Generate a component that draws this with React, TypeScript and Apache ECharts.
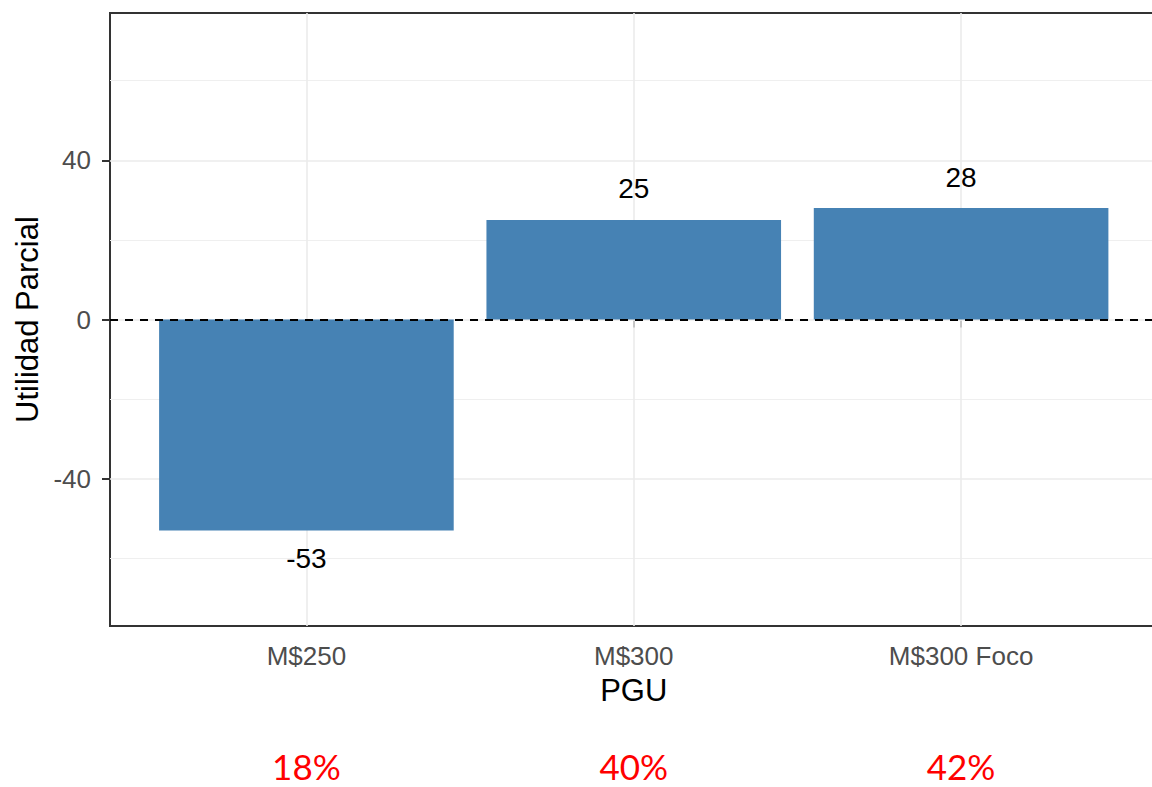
import React, { useEffect, useRef } from "react";
import * as echarts from "echarts";

const categories = ["M$250", "M$300", "M$300 Foco"];
const values = [-53, 25, 28];
const shares = ["18%", "40%", "42%"];
const yMajor = [-40, 0, 40];
const yMinor = [-60, -20, 20, 60];
const positions = categories.map((_, i) => i + 1);

const FONT = "Liberation Sans";

export default function App() {
  const ref = useRef<HTMLDivElement>(null);
  useEffect(() => {
    document.body.style.margin = "0";
    document.body.style.overflow = "hidden";
    const chart = echarts.init(ref.current!, null, { renderer: "svg" });
    const catName = (v: number) => categories[Math.round(v) - 1] ?? "";
    const shareName = (v: number) => shares[Math.round(v) - 1] ?? "";
    chart.setOption({
      animation: false,
      backgroundColor: "#ffffff",
      grid: {
        left: 110,
        top: 13,
        width: 1047.5,
        height: 613,
        containLabel: false,
        outerBoundsMode: "none",
        show: true,
        borderColor: "#333333",
        borderWidth: 2,
        backgroundColor: "transparent",
      },
      xAxis: [
        {
          type: "value",
          min: 0.4,
          max: 3.6,
          axisLine: { show: false },
          axisTick: {
            show: true,
            customValues: positions,
            length: 8,
            lineStyle: { color: "#333333", width: 2 },
          },
          axisLabel: {
            customValues: positions,
            formatter: catName,
            margin: 17,
            fontSize: 26,
            color: "#4D4D4D",
            fontFamily: FONT,
          },
          splitLine: { show: false },
          name: "PGU",
          nameLocation: "middle",
          nameGap: 49,
          nameTextStyle: { fontSize: 31, color: "#000000", fontFamily: FONT },
        },
        {
          type: "value",
          min: 0.4,
          max: 3.6,
          position: "bottom",
          offset: 117,
          axisLine: { show: false },
          axisTick: { show: false },
          axisLabel: {
            customValues: positions,
            formatter: shareName,
            margin: 5,
            fontSize: 35,
            lineHeight: 35,
            color: "#FF0000",
            fontFamily: "Lato",
          },
          splitLine: { show: false },
        },
      ],
      yAxis: {
        type: "value",
        min: -77,
        max: 77,
        axisLine: { show: false },
        axisTick: {
          show: true,
          customValues: yMajor,
          length: 8,
          lineStyle: { color: "#333333", width: 2 },
        },
        axisLabel: {
          customValues: yMajor,
          margin: 19,
          fontSize: 26,
          color: "#4D4D4D",
          fontFamily: FONT,
        },
        splitLine: { show: false },
        name: "Utilidad Parcial",
        nameLocation: "middle",
        nameGap: 66,
        nameTextStyle: { fontSize: 31, color: "#000000", fontFamily: FONT },
      },
      series: [
        {
          type: "line",
          data: [],
          z: 1,
          silent: true,
          markLine: {
            silent: true,
            z: 1,
            symbol: "none",
            label: { show: false },
            lineStyle: { color: "#EBEBEB", type: "solid", width: 1.6 },
            data: [
              ...yMinor.map((v) => ({ yAxis: v, lineStyle: { width: 1.1, color: "#EFEFEF", type: "solid" } })),
              ...yMajor.map((v) => ({ yAxis: v })),
              ...positions.map((v) => ({ xAxis: v })),
            ],
          },
        },
        {
          type: "bar",
          z: 2,
          barWidth: "90%",
          itemStyle: { color: "#4682B4" },
          data: values.map((v, i) => ({
            value: [positions[i], v],
            label: { position: v < 0 ? "bottom" : "top", distance: v < 0 ? 14 : 17 },
          })),
          label: {
            show: true,
            distance: 17,
            fontSize: 28,
            color: "#000000",
            fontFamily: FONT,
            formatter: (p: any) => String(p.value[1]),
          },
          markLine: {
            silent: true,
            symbol: "none",
            label: { show: false },
            z: 5,
            lineStyle: { color: "#000000", type: [8, 7], width: 2 },
            data: [{ yAxis: 0 }],
          },
        },
      ],
    });
    return () => chart.dispose();
  }, []);
  return <div ref={ref} style={{ width: 1152, height: 787 }} />;
}
